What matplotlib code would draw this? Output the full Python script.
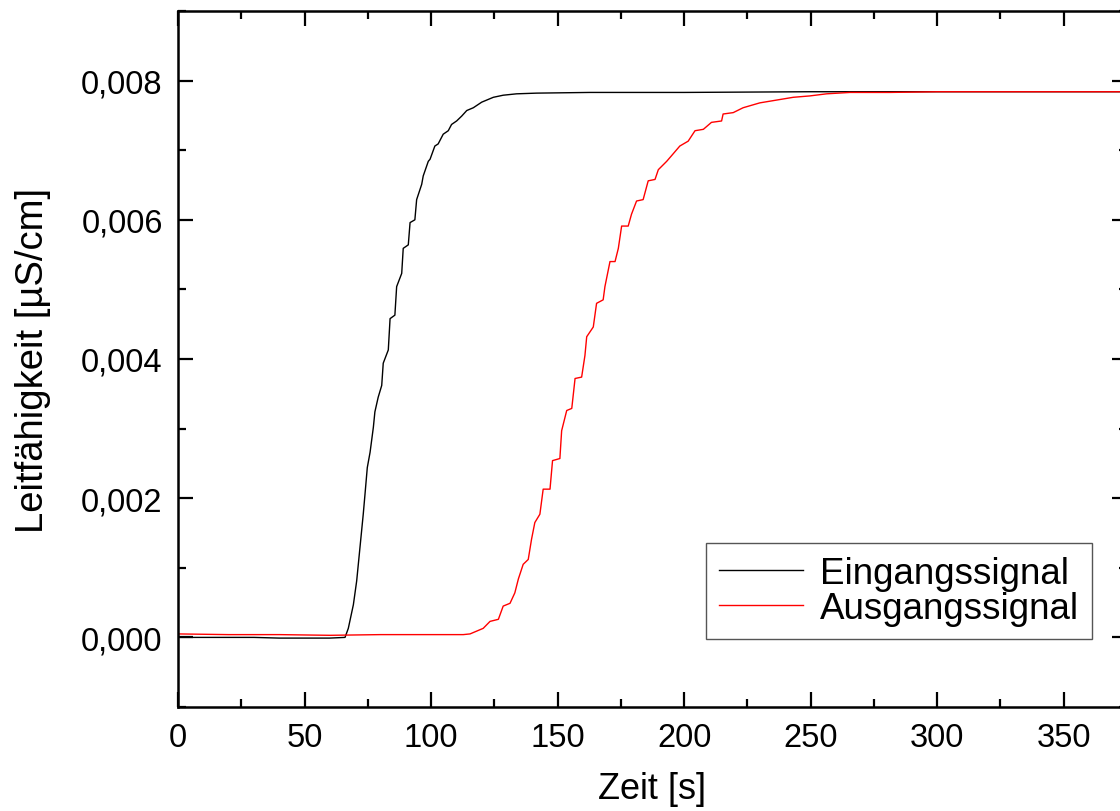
import numpy as np
import matplotlib.pyplot as plt
from matplotlib.ticker import MultipleLocator, FuncFormatter

# --- Daten (Leitfähigkeit in 1e-3 µS/cm) ---
t_ein = [0, 10, 20, 30, 40, 50, 60, 66.0, 67.3, 69.3, 70.6, 71.9, 73.2, 73.9,
         74.8, 75.9, 77.2, 77.8, 79.1, 80.5, 81.1, 83.1, 83.8, 85.7, 86.4,
         88.4, 89.0, 91.0, 91.7, 93.6, 94.3, 96.3, 96.9, 98.9, 99.6, 101.5,
         102.8, 104.8, 106.8, 108.1, 110.1, 112.1, 114.1, 116.7, 120.0, 124.6,
         128.5, 133.8, 141.7, 162.8, 200, 250, 300, 350, 375]
v_ein = [0.00, 0.00, 0.00, 0.00, -0.01, -0.01, -0.01, 0.00, 0.13, 0.47, 0.81,
         1.29, 1.77, 2.06, 2.44, 2.66, 3.02, 3.24, 3.45, 3.62, 3.94, 4.13,
         4.58, 4.63, 5.04, 5.23, 5.59, 5.64, 5.96, 6.00, 6.29, 6.51, 6.63,
         6.84, 6.87, 7.06, 7.09, 7.23, 7.28, 7.37, 7.42, 7.49, 7.57, 7.61,
         7.69, 7.76, 7.79, 7.81, 7.82, 7.83, 7.83, 7.84, 7.84, 7.84, 7.84]

t_aus = [0, 20, 40, 60, 80, 100, 112.7, 115.4, 118.0, 120.6, 123.3, 126.6,
         128.5, 131.2, 133.1, 134.5, 136.4, 138.4, 139.7, 141.0, 143.0, 144.3,
         147.0, 148.0, 150.9, 151.6, 153.6, 155.6, 156.9, 159.5, 160.8, 161.5,
         164.1, 165.4, 168.0, 168.7, 170.7, 172.7, 174.0, 175.3, 177.9, 179.2,
         181.2, 183.8, 185.8, 188.5, 189.8, 193.1, 195.0, 198.3, 201.6, 204.3,
         207.6, 210.8, 214.8, 215.4, 219.4, 223.3, 229.9, 236.5, 243.1, 249.7,
         256.3, 265.5, 281.3, 300, 325, 350, 375]
v_aus = [0.05, 0.04, 0.04, 0.03, 0.04, 0.04, 0.04, 0.05, 0.09, 0.13, 0.23,
         0.26, 0.45, 0.49, 0.64, 0.84, 1.05, 1.12, 1.41, 1.65, 1.77, 2.13,
         2.13, 2.54, 2.57, 2.97, 3.26, 3.29, 3.72, 3.74, 4.05, 4.32, 4.46,
         4.80, 4.85, 5.04, 5.40, 5.40, 5.59, 5.91, 5.91, 6.08, 6.27, 6.29,
         6.56, 6.58, 6.72, 6.84, 6.92, 7.06, 7.13, 7.28, 7.30, 7.40, 7.42,
         7.52, 7.54, 7.61, 7.68, 7.72, 7.76, 7.78, 7.81, 7.83, 7.83, 7.84,
         7.84, 7.84, 7.84]

plt.rcParams["font.family"] = ["Liberation Sans", "DejaVu Sans"]

fig = plt.figure(figsize=(11.2, 8.12), dpi=100)
ax = fig.add_axes([178 / 1120, 104 / 812, 949 / 1120, 696 / 812])

ax.plot(t_ein, np.array(v_ein) * 1e-3, color="black", lw=1.0, label="Eingangssignal")
ax.plot(t_aus, np.array(v_aus) * 1e-3, color="red", lw=1.0, label="Ausgangssignal")

ax.set_xlim(0, 375)
ax.set_ylim(-0.001, 0.009)
ax.xaxis.set_major_locator(MultipleLocator(50))
ax.xaxis.set_minor_locator(MultipleLocator(25))
ax.yaxis.set_major_locator(MultipleLocator(0.002))
ax.yaxis.set_minor_locator(MultipleLocator(0.001))
ax.yaxis.set_major_formatter(FuncFormatter(lambda v, p: f"{v:.3f}".replace(".", ",")))

for s in ax.spines.values():
    s.set_linewidth(1.8)
ax.tick_params(which="both", direction="in", top=True, right=True,
               width=1.6, labelsize=23.5)
ax.tick_params(which="major", length=11, pad=11)
ax.tick_params(which="minor", length=6)

ax.set_xlabel("Zeit [s]", fontsize=26, labelpad=13)
ax.set_ylabel("Leitfähigkeit [µS/cm]", fontsize=27.5, labelpad=22)

leg = ax.legend(loc="lower right", bbox_to_anchor=(0.963, 0.098),
                borderaxespad=0, fontsize=26.5, fancybox=False, framealpha=1,
                edgecolor="#555555", handlelength=2.3, handletextpad=0.45,
                labelspacing=0.0, borderpad=0.35)
leg.get_frame().set_linewidth(1.0)

fig.savefig("out.png", dpi=100)
